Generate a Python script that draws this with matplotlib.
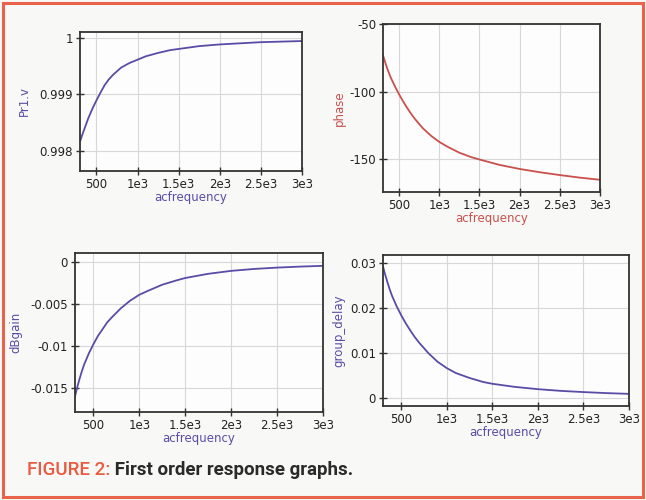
import matplotlib
matplotlib.use("Agg")
import matplotlib.pyplot as plt
from matplotlib.patches import Rectangle

# ---------------- data ----------------
freq = [300, 325, 350, 375, 400, 450, 500, 550, 600, 650, 700, 800, 900, 1000,
        1100, 1250, 1400, 1500, 1750, 2000, 2250, 2500, 2750, 3000]
pr1_v = [0.99816, 0.99827, 0.99837, 0.99847, 0.99857, 0.99874, 0.99889, 0.99903,
         0.99916, 0.99926, 0.99934, 0.99947, 0.99955, 0.99961, 0.99967, 0.99973,
         0.99978, 0.99980, 0.99985, 0.99988, 0.99990, 0.99992, 0.99993, 0.99994]
phase = [-73, -77.9, -82.4, -86.4, -90, -96.2, -101.9, -107.1, -111.9, -116.3,
         -120.3, -127.2, -132.6, -137, -140.5, -145, -148.3, -150, -154, -157,
         -159.4, -161.5, -163.4, -165]
dbgain = [-0.0160, -0.0149, -0.0139, -0.0130, -0.0122, -0.0109, -0.0098, -0.0088,
          -0.0080, -0.0072, -0.0066, -0.0055, -0.0046, -0.0039, -0.0034, -0.0027,
          -0.0022, -0.0019, -0.0014, -0.00105, -0.00082, -0.00066, -0.00054, -0.00045]
group_delay = [0.0293, 0.0274, 0.0257, 0.0241, 0.0227, 0.0204, 0.0184, 0.0166,
               0.0150, 0.0135, 0.0122, 0.0099, 0.0080, 0.0066, 0.0055, 0.0044,
               0.0035, 0.0031, 0.0024, 0.0019, 0.00152, 0.00125, 0.00102, 0.00085]

xticks = [500, 1000, 1500, 2000, 2500, 3000]
xticklabels = ['500', '1e3', '1.5e3', '2e3', '2.5e3', '3e3']
yticks_pr1 = [0.998, 0.999, 1.0]
yticklabels_pr1 = ['0.998', '0.999', '1']
yticks_phase = [-150, -100, -50]
yticklabels_phase = ['-150', '-100', '-50']
yticks_db = [-0.015, -0.01, -0.005, 0]
yticklabels_db = ['-0.015', '-0.01', '-0.005', '0']
yticks_gd = [0, 0.01, 0.02, 0.03]
yticklabels_gd = ['0', '0.01', '0.02', '0.03']

caption_head = "FIGURE 2:"
caption_body = " First order response graphs."

# ---------------- style ----------------
W, H = 646, 500
BLUE = '#5a4ca6'
RED = '#c9504c'
BG = '#f8f8f6'

fig = plt.figure(figsize=(W / 100, H / 100), dpi=100, facecolor=BG)


def box(l, r, t, b):
    return [l / W, 1 - b / H, (r - l) / W, (b - t) / H]


def setup(ax, y, color, ylabel, yt, ytl, ylim, ypad):
    ax.set_facecolor('#fdfdfd')
    ax.plot(freq, y, color=color, lw=1.3)
    ax.set_xlim(300, 3000)
    ax.set_ylim(*ylim)
    ax.set_xticks(xticks)
    ax.set_xticklabels(xticklabels)
    ax.set_yticks(yt)
    ax.set_yticklabels(ytl)
    ax.grid(True, color='#d8d8d8', lw=0.8)
    ax.set_axisbelow(True)
    for s in ax.spines.values():
        s.set_color('#333333')
        s.set_linewidth(1.3)
    ax.tick_params(direction='inout', length=6, width=1.0, colors='#333333',
                   labelsize=8.5, labelcolor='#222222', pad=2)
    ax.set_xlabel('acfrequency', color=color, fontsize=8.5, labelpad=0)
    ax.set_ylabel(ylabel, color=color, fontsize=8.5, labelpad=ypad)


ax1 = fig.add_axes(box(80, 302, 32, 171))
setup(ax1, pr1_v, BLUE, 'Pr1.v', yticks_pr1, yticklabels_pr1, (0.99764, 1.0001), 6)

ax2 = fig.add_axes(box(383, 600, 24, 192))
setup(ax2, phase, RED, 'phase', yticks_phase, yticklabels_phase, (-174, -50), 2.5)

ax3 = fig.add_axes(box(75, 323, 253, 412))
setup(ax3, dbgain, BLUE, 'dBgain', yticks_db, yticklabels_db, (-0.01787, 0.00108), 6)

ax4 = fig.add_axes(box(383, 629, 255, 406))
setup(ax4, group_delay, BLUE, 'group_delay', yticks_gd, yticklabels_gd, (-0.00186, 0.03186), 3.2)

# caption
t1 = fig.text(27 / W, 1 - 475 / H, caption_head, color='#ea5a40', fontsize=13.5,
              fontfamily='Roboto', fontweight='medium', va='baseline', ha='left')
fig.canvas.draw()
bb = t1.get_window_extent()
fig.text(bb.x1 / W, 1 - 475 / H, caption_body, color='#2a2a2a', fontsize=13.5,
         fontfamily='Roboto', fontweight='bold', va='baseline', ha='left')

# orange border
fig.patches.append(Rectangle((3 / W, 3 / H), 640 / W, 494 / H, transform=fig.transFigure,
                             fill=False, edgecolor='#e9634c', lw=2.2))

fig.savefig('out.png', dpi=100, facecolor=BG)
